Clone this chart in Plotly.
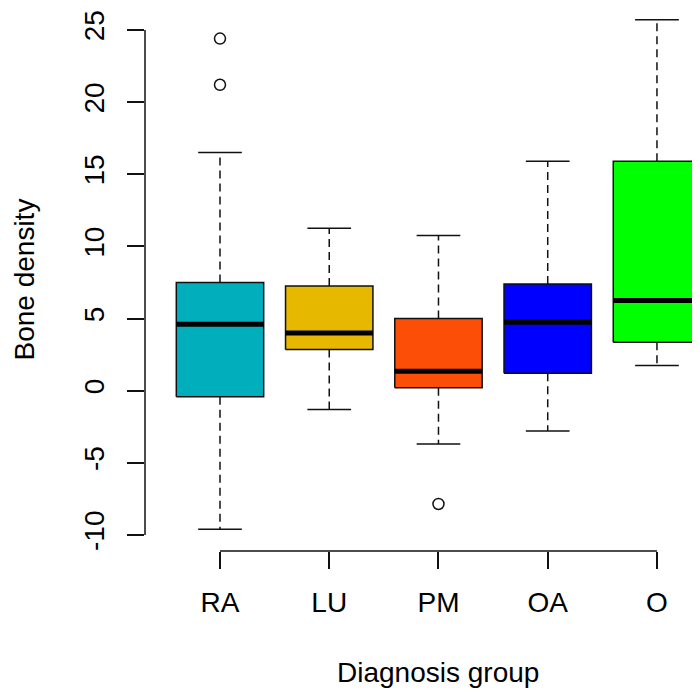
import plotly.graph_objects as go

groups = ["RA", "LU", "PM", "OA", "O"]
colors = ["#00AFBB", "#E7B800", "#FC4E07", "#0000FF", "#00FF00"]
lower_whisker = [-9.6, -1.3, -3.7, -2.8, 1.75]
q1 = [-0.42, 2.85, 0.2, 1.2, 3.35]
median = [4.6, 4.0, 1.35, 4.75, 6.25]
q3 = [7.5, 7.25, 5.0, 7.4, 15.9]
upper_whisker = [16.5, 11.25, 10.75, 15.9, 25.7]
outliers = {"RA": [24.4, 21.2], "PM": [-7.85]}
y_ticks = [-10, -5, 0, 5, 10, 15, 20, 25]
y_ticktext = ["-10", "-5", "0", "5", "10", "15", "20", "25"]

FONT = "Liberation Sans"
FS = 28
boxw = 0.8
capw = 0.4

fig = go.Figure()
xs = list(range(1, len(groups) + 1))

for i, g in enumerate(groups):
    x = xs[i]
    # whiskers (dashed)
    fig.add_trace(go.Scatter(
        x=[x, x, None, x, x], y=[q3[i], upper_whisker[i], None, q1[i], lower_whisker[i]],
        mode="lines", line=dict(color="#111111", width=1.5, dash="8px,5px"),
        hoverinfo="skip", showlegend=False))
    # caps
    fig.add_trace(go.Scatter(
        x=[x - capw / 2, x + capw / 2, None, x - capw / 2, x + capw / 2],
        y=[upper_whisker[i], upper_whisker[i], None, lower_whisker[i], lower_whisker[i]],
        mode="lines", line=dict(color="#111111", width=1.5),
        hoverinfo="skip", showlegend=False))
    # box
    fig.add_trace(go.Scatter(
        x=[x - boxw / 2, x + boxw / 2, x + boxw / 2, x - boxw / 2, x - boxw / 2],
        y=[q1[i], q1[i], q3[i], q3[i], q1[i]],
        mode="lines", fill="toself", fillcolor=colors[i],
        line=dict(color="#111111", width=1.5), name=g, showlegend=False))
    # median
    fig.add_trace(go.Scatter(
        x=[x - boxw / 2, x + boxw / 2], y=[median[i], median[i]],
        mode="lines", line=dict(color="#000000", width=5),
        hoverinfo="skip", showlegend=False))
    if g in outliers:
        fig.add_trace(go.Scatter(
            x=[x] * len(outliers[g]), y=outliers[g], mode="markers",
            marker=dict(symbol="circle-open", size=11, color="#111111",
                        line=dict(width=1.5, color="#111111")),
            showlegend=False))

# R-style axis lines spanning only the tick range
fig.add_shape(type="line", xref="x", yref="paper", x0=xs[0], x1=xs[-1], y0=0, y1=0,
              line=dict(color="#111111", width=1.5))
fig.add_shape(type="line", xref="paper", yref="y", x0=0, x1=0, y0=y_ticks[0], y1=y_ticks[-1],
              line=dict(color="#111111", width=1.5))

# plot area: 555 x 543 px (page has an 8px body margin)
fig.add_annotation(text="Diagnosis group", xref="x", yref="paper",
                   x=(xs[0] + xs[-1]) / 2, y=-(664 - 543) / 543, yanchor="middle", showarrow=False,
                   font=dict(family=FONT, size=FS, color="#000000"))
fig.add_annotation(text="Bone density", xref="paper", yref="paper",
                   x=-(137 - 16) / 555, y=0.5, xanchor="center", textangle=-90, showarrow=False,
                   font=dict(family=FONT, size=FS, color="#000000"))

fig.update_layout(
    width=692, height=682,
    margin=dict(l=137, r=0, t=0, b=139),
    paper_bgcolor="white", plot_bgcolor="white",
    font=dict(family=FONT, size=FS, color="#000000"),
    xaxis=dict(range=[0.3135, 5.394], tickvals=xs, ticktext=groups,
               ticks="outside", ticklen=17, tickwidth=1.5, tickcolor="#111111",
               showgrid=False, zeroline=False, showline=False,
               ticklabelstandoff=9),
    yaxis=dict(range=[-11.11, 26.52], tickvals=y_ticks, ticktext=y_ticktext,
               ticks="outside", ticklen=17, tickwidth=1.5, tickcolor="#111111",
               tickangle=-90, showgrid=False, zeroline=False, showline=False,
               ticklabelstandoff=12),
)

fig.write_html("out.html")
